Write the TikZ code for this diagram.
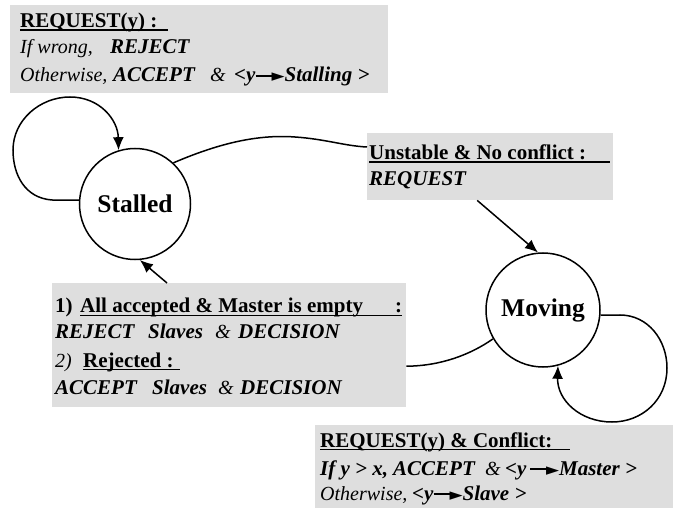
\documentclass[tikz,border=0pt]{standalone}
\usepackage{fontspec}
\setmainfont{Liberation Serif}
\newfontfamily\symf{DejaVu Sans}
\usetikzlibrary{arrows.meta}
\definecolor{bgc}{RGB}{222,222,222}
\newcommand\arr{\raisebox{5.2pt}{\rule{20pt}{2.2pt}}\kern-4pt{\symf\fontsize{17}{17}\selectfont ►}}
\newcommand\ulbox[2]{\makebox[#1][l]{\rlap{\rule[-3pt]{#1}{1.5pt}}#2}}
\newcommand\bi[1]{\textbf{\textit{#1}}}
\newcommand\ri[1]{{\fontsize{20}{24}\selectfont\itshape #1}}
\begin{document}
\begin{tikzpicture}[x=1pt,y=1pt,
  lbl/.style={font=\fontsize{21}{25}\selectfont, inner sep=0pt, anchor=base west},
  bgbox/.style={fill=bgc, draw=none, inner sep=0pt, anchor=north west},
  state/.style={circle, draw, line width=1.5pt, inner sep=0pt, font=\fontsize{25.5}{30}\selectfont\bfseries},
  conn/.style={line width=1.5pt},
  arrow/.style={conn, -{Latex[length=13pt,width=11pt]}}]
\path[use as bounding box] (0,0) rectangle (678,-513);
% label backgrounds
\node[bgbox, minimum width=378pt, minimum height=88pt] (b1) at (10,-5) {};
\node[bgbox, minimum width=246pt, minimum height=67pt] (b2) at (367,-133) {};
\node[bgbox, minimum width=354pt, minimum height=124pt] (b3) at (52,-283) {};
\node[bgbox, minimum width=358pt, minimum height=83pt] (b4) at (315,-425) {};
% texts
\node[lbl] (t1a) at (20,-28) {\bfseries\ulbox{148pt}{REQUEST(y) :}};
\node[lbl] (t1b) at (20,-54) {\makebox[90pt][l]{\ri{If wrong,}}\bi{REJECT}};
\node[lbl] (t1c) at (20,-82) {\makebox[93pt][l]{\ri{Otherwise,}}\makebox[97pt][l]{\bi{ACCEPT}}\makebox[24pt][l]{\ri{\&}}\bi{<y}\arr\bi{Stalling >}};
\node[lbl] (t2a) at (369,-160) {\bfseries\ulbox{241pt}{Unstable \& No conflict :}};
\node[lbl] (t2b) at (369,-186) {\bi{REQUEST}};
\node[lbl] (t3a) at (55,-313) {\makebox[25pt][l]{\bfseries 1)}\bfseries\ulbox{322pt}{All accepted \& Master is empty\hfill:}};
\node[lbl] (t3b) at (55,-339) {\makebox[93pt][l]{\bi{REJECT}}\makebox[67pt][l]{\bi{Slaves}}\makebox[23pt][l]{\ri{\&}}\bi{DECISION}};
\node[lbl] (t3c) at (55,-367) {\makebox[28pt][l]{\ri{2)}}\bfseries\ulbox{97pt}{Rejected :}};
\node[lbl] (t3d) at (55,-394) {\makebox[97pt][l]{\bi{ACCEPT}}\makebox[66pt][l]{\bi{Slaves}}\makebox[22pt][l]{\ri{\&}}\bi{DECISION}};
\node[lbl] (t4a) at (320,-447) {\bfseries\ulbox{250pt}{REQUEST(y) \& Conflict:}};
\node[lbl] (t4b) at (320,-475) {\makebox[73pt][l]{\bi{If y > x,}}\makebox[92pt][l]{\bi{ACCEPT}}\makebox[20pt][l]{\ri{\&}}\bi{<y}\,\arr\bi{Master >}};
\node[lbl] (t4c) at (320,-500) {\makebox[92pt][l]{\ri{Otherwise,}}\bi{<y}\arr\bi{Slave >}};
% states
\node[state, minimum size=111pt] (s) at (135,-204) {Stalled};
\node[state, minimum size=114pt] (m) at (543,-310) {Moving};
% connectors
\draw[arrow] (s.176) -- (52,-200) .. controls (25,-198) and (13,-175) .. (13,-150)
  .. controls (13,-120) and (40,-97) .. (70,-97) .. controls (100,-97) and (118,-120) .. (s.107);
\draw[conn] (s.47) .. controls (215,-145) and (255,-134) .. (295,-137)
  .. controls (325,-139) and (345,-146) .. ([yshift=-14pt]b2.north west);
\draw[arrow] ([xshift=-13pt]b2.south) -- (m.95);
\draw[arrow] (m.-5) -- (620,-315) .. controls (648,-315) and (667,-340) .. (667,-368)
  .. controls (667,-400) and (642,-422) .. (612,-422) .. controls (580,-422) and (557,-400) .. (m.-75);
\draw[conn] (m.210) .. controls (470,-355) and (440,-366) .. ([yshift=-21pt]b3.east);
\draw[arrow] ([xshift=115pt]b3.north west) -- (s.-85);
\end{tikzpicture}
\end{document}
